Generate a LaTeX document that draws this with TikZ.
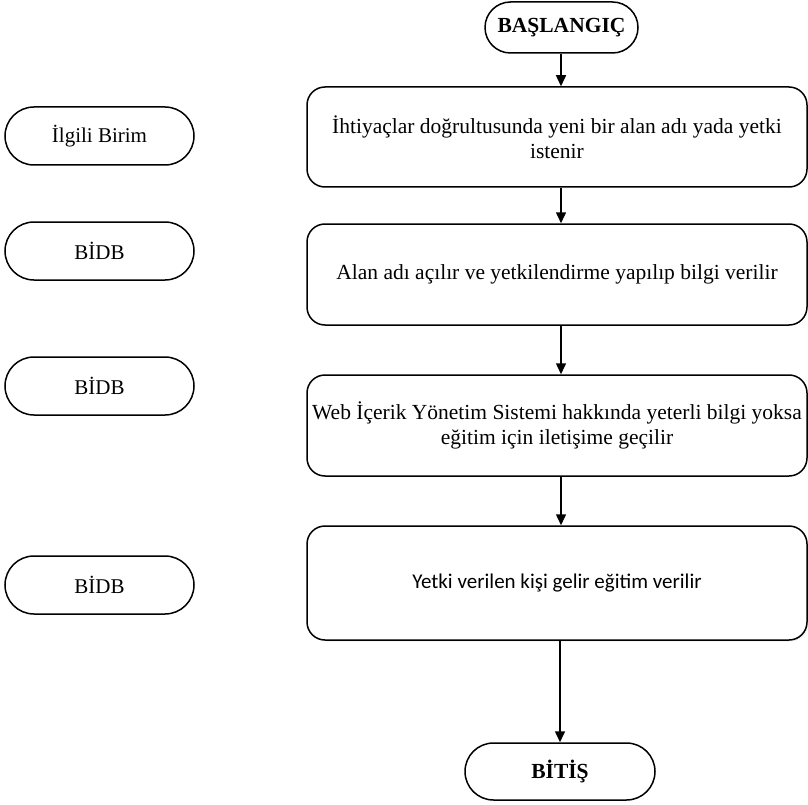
\documentclass[tikz,border=0pt]{standalone}
\usepackage{fontspec}
\setmainfont{Liberation Serif}
\newfontfamily\calfont{Carlito}
\usetikzlibrary{arrows.meta,shapes.misc,shadows}
\tikzset{
  stadium/.style={rounded rectangle, draw, line width=1.5pt, inner sep=0pt, font=\fontsize{21}{25}\selectfont},
  procbox/.style={rectangle, draw, line width=1.5pt, rounded corners=18pt, inner sep=0pt, align=center, font=\fontsize{21.5}{25.5}\selectfont},
  flow/.style={line width=1.5pt, -{Triangle[width=10pt,length=11pt]}}
}
\begin{document}
\begin{tikzpicture}[x=1pt,y=-1pt]
\useasboundingbox (0,0) rectangle (808,805);
\node[stadium, minimum width=153pt, minimum height=51pt, font=\fontsize{21.5}{25}\selectfont\bfseries] (start) at (561.5,27.5) {BAŞLANGIÇ};
\node[procbox, minimum width=500pt, minimum height=100pt] (b1) at (557,137) {İhtiyaçlar doğrultusunda yeni bir alan adı yada yetki\\istenir};
\node[procbox, minimum width=500pt, minimum height=101pt] (b2) at (557,274.5) {Alan adı açılır ve yetkilendirme yapılıp bilgi verilir};
\node[procbox, minimum width=500pt, minimum height=101pt] (b3) at (557,425.5) {Web İçerik Yönetim Sistemi hakkında yeterli bilgi yoksa\\eğitim için iletişime geçilir};
\node[procbox, minimum width=500pt, minimum height=114pt, font=\fontsize{21}{25}\calfont, drop shadow={opacity=0.12, shadow xshift=1.5pt, shadow yshift=-1.5pt}, fill=white] (b4) at (557,583) {Yetki verilen kişi gelir eğitim verilir};
\node[stadium, minimum width=190pt, minimum height=57pt, font=\fontsize{21.5}{25}\selectfont\bfseries] (end) at (560,771.5) {BİTİŞ};

\node[stadium, minimum width=189pt, minimum height=58pt] (l1) at (99.5,136) {İlgili Birim};
\node[stadium, minimum width=189pt, minimum height=58pt] (l2) at (99.5,251) {BİDB};
\node[stadium, minimum width=189pt, minimum height=58pt] (l3) at (99.5,386) {BİDB};
\node[stadium, minimum width=189pt, minimum height=58pt] (l4) at (99.5,585) {BİDB};

\draw[flow] (start.south -| 561,0) -- (b1.north -| 561,0);
\draw[flow] (b1.south -| 561,0) -- (b2.north -| 561,0);
\draw[flow] (b2.south -| 561,0) -- (b3.north -| 561,0);
\draw[flow] (b3.south -| 561,0) -- (b4.north -| 561,0);
\draw[flow] (b4.south -| 560,0) -- (end.north);
\end{tikzpicture}
\end{document}
